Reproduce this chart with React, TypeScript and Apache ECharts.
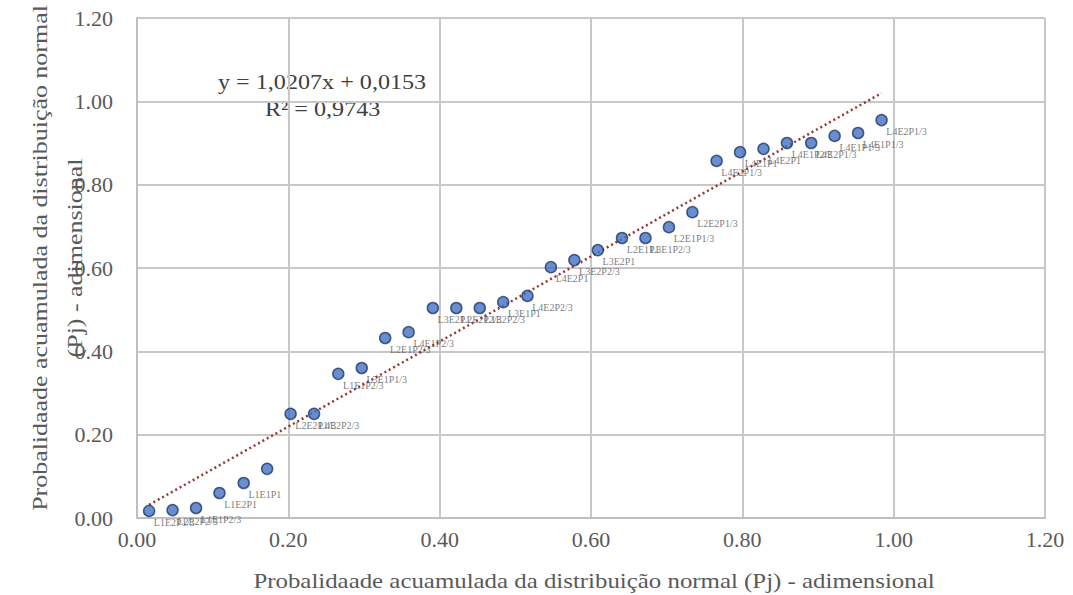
import React, { useEffect, useRef } from "react";
import * as echarts from "echarts";

const xValues = [
  0.016, 0.047, 0.078, 0.109, 0.141, 0.172, 0.203, 0.234,
  0.266, 0.297, 0.328, 0.359, 0.391, 0.422, 0.453, 0.484,
  0.516, 0.547, 0.578, 0.609, 0.641, 0.672, 0.703, 0.734,
  0.766, 0.797, 0.828, 0.859, 0.891, 0.922, 0.953, 0.984,
];
const yValues = [
  0.017, 0.019, 0.024, 0.06, 0.084, 0.118, 0.25, 0.25,
  0.346, 0.36, 0.432, 0.446, 0.504, 0.504, 0.504, 0.518,
  0.533, 0.602, 0.619, 0.643, 0.672, 0.672, 0.698, 0.734,
  0.857, 0.878, 0.886, 0.9, 0.9, 0.917, 0.924, 0.955,
];
const pointLabels = [
  "L1E2P1/3", "L2E2P2/3", "L1E1P2/3", "L1E2P1", "L1E1P1", "", "L2E2P1/3", "L4E2P2/3",
  "L1E1P2/3", "L3E1P1/3", "L2E1P2/3", "L4E1P2/3", "L3E2P1", "L2E2P2/3", "L1E2P2/3", "L3E1P1",
  "L4E2P2/3", "L4E2P1", "L3E2P2/3", "L3E2P1", "L2E1P1", "L3E1P2/3", "L2E1P1/3", "L2E2P1/3",
  "L4E2P1/3", "L4E1P1", "L4E2P1", "L4E1P2/3", "L4E2P1/3", "L4E1P1/3", "L4E1P1/3", "L4E2P1/3",
];
const xTickLabels = ["0.00", "0.20", "0.40", "0.60", "0.80", "1.00", "1.20"];
const slope = 1.0207;
const intercept = 0.0153;
const equationText = "y = 1,0207x + 0,0153";
const r2Text = "R² = 0,9743";
const xTitle = "Probalidaade acuamulada da distribuição normal (Pj) - adimensional";
const yTitle = "Probalidaade acuamulada da distribuição normal\n(Pj) - adimensional";

const FONT = "'Liberation Serif', 'Times New Roman', serif";

export default function App() {
  const ref = useRef<HTMLDivElement>(null);
  useEffect(() => {
    if (!ref.current) return;
    const chart = echarts.init(ref.current, null, { renderer: "svg" });
    const xMin = xValues[0];
    const xMax = xValues[xValues.length - 1];
    const trend = [
      [xMin, slope * xMin + intercept],
      [xMax, slope * xMax + intercept],
    ];
    chart.setOption({
      animation: false,
      backgroundColor: "#ffffff",
      grid: {
        left: 137,
        top: 18,
        right: 28,
        bottom: 77,
        containLabel: false,
        outerBoundsMode: "none",
      },
      xAxis: {
        type: "value",
        min: 0,
        max: 1.2,
        interval: 0.2,
        axisLine: { show: true, lineStyle: { color: "#bfbfbf", width: 2 } },
        axisTick: { show: false },
        splitLine: { show: true, lineStyle: { color: "#c8c8c8", width: 2 } },
        axisLabel: {
          formatter: (v: number) => xTickLabels[Math.round(v / 0.2)] ?? v.toFixed(2),
          color: "#595959",
          fontFamily: FONT,
          fontSize: 22,
          margin: 10,
        },
      },
      yAxis: {
        type: "value",
        min: 0,
        max: 1.2,
        interval: 0.2,
        axisLine: { show: true, lineStyle: { color: "#bfbfbf", width: 2 } },
        axisTick: { show: false },
        splitLine: { show: true, lineStyle: { color: "#c8c8c8", width: 2 } },
        axisLabel: {
          formatter: (v: number) => v.toFixed(2),
          color: "#595959",
          fontFamily: FONT,
          fontSize: 22,
          margin: 24,
        },
      },
      series: [
        {
          type: "line",
          data: trend,
          symbol: "none",
          lineStyle: { color: "#943634", width: 2.5, type: [2, 3] },
          silent: true,
          z: 3,
        },
        {
          type: "scatter",
          data: xValues.map((x, i) => ({ value: [x, yValues[i]], name: pointLabels[i] })),
          symbol: "circle",
          symbolSize: 11,
          itemStyle: { color: "#4472c4", borderColor: "#1f3a68", borderWidth: 1.5 },
          label: {
            show: true,
            formatter: (p: any) => p.name,
            position: [11, 13],
            color: "#595959",
            fontFamily: FONT,
            fontSize: 10,
          },
          z: 4,
        },
      ],
      graphic: [
        {
          type: "text",
          x: 218,
          y: 72,
          scaleX: 1.15,
          style: { text: equationText, fill: "#404040", font: `21px ${FONT}` },
        },
        {
          type: "text",
          x: 265,
          y: 99,
          scaleX: 1.15,
          style: { text: r2Text, fill: "#404040", font: `21px ${FONT}` },
        },
        {
          type: "text",
          x: 594,
          y: 581,
          scaleX: 1.13,
          style: {
            text: xTitle,
            fill: "#595959",
            font: `22px ${FONT}`,
            align: "center",
            verticalAlign: "middle",
          },
        },
        {
          type: "text",
          x: 57,
          y: 258,
          rotation: Math.PI / 2,
          scaleX: 1.18,
          style: {
            text: yTitle,
            fill: "#595959",
            font: `22px ${FONT}`,
            align: "center",
            verticalAlign: "middle",
            lineHeight: 35,
          },
        },
      ],
    });
    return () => chart.dispose();
  }, []);
  return (
    <div
      ref={ref}
      style={{ position: "fixed", left: 0, top: 0, width: 1073, height: 595 }}
    />
  );
}
